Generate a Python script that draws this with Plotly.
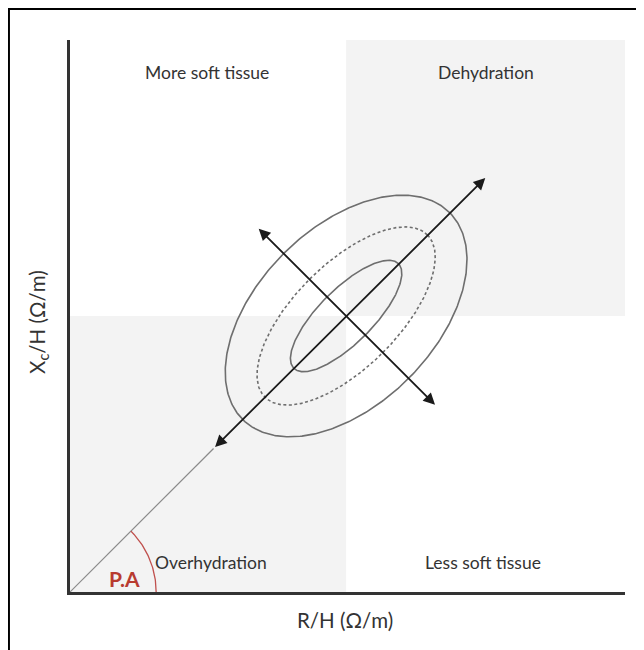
import numpy as np
import plotly.graph_objects as go

# ---- data (diagram units; origin = axes corner) ----
quadrant_labels = ["More soft tissue", "Dehydration", "Overhydration", "Less soft tissue"]
quadrant_x = [2.48, 7.54, 2.55, 7.48]
quadrant_y = [9.42, 9.42, 0.54, 0.54]

center = (5.0, 5.0)
ellipse_names = ["outer", "middle", "inner"]
ellipse_major = [2.65, 2.08, 1.34]
ellipse_minor = [1.60, 0.94, 0.49]
ellipse_dash = ["solid", "3px,2.5px", "solid"]
ellipse_angle_deg = 45

main_arrow_start = (2.6, 2.6)
main_arrow_end = (7.52, 7.5)
perp_arrow_start = (3.39, 6.61)
perp_arrow_end = (6.61, 3.39)

phase_angle_deg = 45
arc_radius = 1.56

X_MAX, Y_MAX = 10.05, 10.0

fig = go.Figure()

# shaded quadrants
fig.add_shape(type="rect", x0=0, y0=0, x1=center[0], y1=center[1],
              fillcolor="#f3f3f3", line_width=0, layer="below")
fig.add_shape(type="rect", x0=center[0], y0=center[1], x1=X_MAX, y1=Y_MAX,
              fillcolor="#f3f3f3", line_width=0, layer="below")

# thin grey line from origin to lower arrow tip
fig.add_trace(go.Scatter(x=[0, main_arrow_start[0]], y=[0, main_arrow_start[1]],
                         mode="lines", line=dict(color="#8a8a8a", width=1.2),
                         hoverinfo="skip", showlegend=False))

# ellipses
t = np.linspace(0, 2 * np.pi, 400)
th = np.deg2rad(ellipse_angle_deg)
for name, a, b, d in zip(ellipse_names, ellipse_major, ellipse_minor, ellipse_dash):
    ex = center[0] + a * np.cos(t) * np.cos(th) - b * np.sin(t) * np.sin(th)
    ey = center[1] + a * np.cos(t) * np.sin(th) + b * np.sin(t) * np.cos(th)
    fig.add_trace(go.Scatter(x=ex, y=ey, mode="lines", name=name,
                             line=dict(color="#6e6e6e", width=1.6, dash=d),
                             hoverinfo="skip", showlegend=False))

# phase angle arc
pa = np.deg2rad(np.linspace(0, phase_angle_deg, 60))
fig.add_trace(go.Scatter(x=arc_radius * np.cos(pa), y=arc_radius * np.sin(pa),
                         mode="lines", line=dict(color="#c0504d", width=1.3),
                         hoverinfo="skip", showlegend=False))

# double-headed arrows
for s, e in [(main_arrow_start, main_arrow_end), (perp_arrow_start, perp_arrow_end)]:
    fig.add_annotation(x=e[0], y=e[1], ax=s[0], ay=s[1], xref="x", yref="y",
                       axref="x", ayref="y", text="", showarrow=True,
                       arrowhead=2, startarrowhead=2, arrowside="end+start",
                       arrowsize=1.3, startarrowsize=1.3, arrowwidth=1.8,
                       arrowcolor="#1a1a1a")

# quadrant labels
for lab, x, y in zip(quadrant_labels, quadrant_x, quadrant_y):
    fig.add_annotation(x=x, y=y, xref="x", yref="y", text=lab, showarrow=False,
                       xanchor="center", yanchor="middle",
                       font=dict(family="Lato", size=17.5, color="#333333"))

fig.add_annotation(x=0.98, y=0.25, xref="x", yref="y", text="<b>P.A</b>",
                   showarrow=False, xanchor="center", yanchor="middle",
                   font=dict(family="Lato", size=21, color="#b83b30"))

# axis titles
fig.add_annotation(x=0.495, y=-0.051, xref="paper", yref="paper", text="R/H (Ω/m)",
                   showarrow=False, xanchor="center", yanchor="middle",
                   font=dict(family="Lato", size=20.5, color="#333333"))
fig.add_annotation(x=-0.058, y=0.489, xref="paper", yref="paper",
                   text="X<sub>c</sub>/H (Ω/m)", textangle=-90,
                   showarrow=False, xanchor="center", yanchor="middle",
                   font=dict(family="Lato", size=20.5, color="#333333"))

# outer border (only left and top edges fall inside the picture)
fig.add_shape(type="rect", xref="paper", yref="paper",
              x0=-0.11, x1=1.04, y0=-0.13, y1=1.056,
              line=dict(color="black", width=2))

fig.update_xaxes(range=[0, X_MAX], showgrid=False, zeroline=False, showticklabels=False,
                 ticks="", showline=True, linecolor="#333333", linewidth=3)
fig.update_yaxes(range=[0, Y_MAX], showgrid=False, zeroline=False, showticklabels=False,
                 ticks="", showline=True, linecolor="#333333", linewidth=3)

# page body adds an 8px offset, so margins are shifted accordingly
fig.update_layout(width=644, height=650, margin=dict(l=62, r=27, t=32, b=66),
                  plot_bgcolor="white", paper_bgcolor="white", showlegend=False)

fig.write_html("out.html")
